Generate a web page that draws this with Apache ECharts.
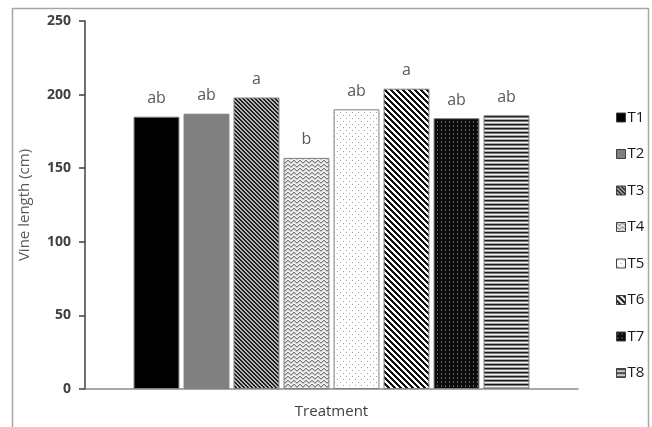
<!DOCTYPE html>
<html>
<head>
<meta charset="utf-8">
<script src="https://cdn.jsdelivr.net/npm/echarts@6/dist/echarts.min.js"></script>
<style>html,body{margin:0;padding:0;background:#fff}#c{width:652px;height:427px}</style>
</head>
<body>
<div id="c"></div>
<script>
var categories = ['Treatment'];
var seriesNames = ['T1','T2','T3','T4','T5','T6','T7','T8'];
var seriesValues = [185, 187, 198, 157, 190, 204, 184, 186];
var letters = ['ab','ab','a','b','ab','a','ab','ab'];
var yTicks = [0, 50, 100, 150, 200, 250];

function tile(w, h, fn) {
  var c = document.createElement('canvas');
  c.width = w; c.height = h;
  var ctx = c.getContext('2d');
  for (var y = 0; y < h; y++) for (var x = 0; x < w; x++) {
    ctx.fillStyle = fn(x, y);
    ctx.fillRect(x, y, 1, 1);
  }
  return { image: c, repeat: 'repeat' };
}
var mod = function (a, n) { return ((a % n) + n) % n; };
var fills = [
  '#000000',
  '#808080',
  tile(4, 4, function (x, y) { return mod(x - y, 4) < 2 ? '#1f1f1f' : '#b4b4b4'; }),
  tile(6, 4, function (x, y) { var w = [0, 1, 2, 2, 1, 0][x]; return (y === w) ? '#7a7a7a' : (y === mod(w + 1, 4) ? '#c4c4c4' : '#efefef'); }),
  tile(6, 6, function (x, y) { return ((x === 1 && y === 1) || (x === 4 && y === 4)) ? '#a0a0a0' : '#ffffff'; }),
  tile(6, 6, function (x, y) { return mod(x - y, 6) < 3 ? '#111111' : '#ffffff'; }),
  tile(4, 4, function (x, y) { return (x === 1 && (y === 1 || y === 2)) ? '#5a5a5a' : '#0d0d0d'; }),
  tile(1, 4, function (x, y) { return ['#1a1a1a', '#7a7a7a', '#f2f2f2', '#a6a6a6'][y]; })
];

var series = seriesNames.map(function (n, i) {
  return {
    name: n,
    type: 'bar',
    data: [seriesValues[i]],
    barGap: '9%',
    barCategoryGap: '19.7%',
    itemStyle: { color: fills[i], borderColor: '#7f7f7f', borderWidth: 1 },
    label: {
      show: true, position: 'top', distance: 10,
      formatter: letters[i],
      color: '#595959', fontSize: 16, fontFamily: 'Open Sans'
    }
  };
});

var chart = echarts.init(document.getElementById('c'), null, { renderer: 'canvas' });
chart.setOption({
  animation: false,
  backgroundColor: '#ffffff',
  graphic: [{
    type: 'rect', silent: true,
    shape: { x: 12.5, y: 8.5, width: 636, height: 440 },
    style: { fill: 'none', stroke: '#a6a6a6', lineWidth: 1.5 }
  }],
  grid: { left: 85, right: 74, top: 21, bottom: 38 },
  legend: {
    orient: 'vertical', left: 611, top: 105,
    icon: 'rect', itemWidth: 9, itemHeight: 9, itemGap: 21.5,
    data: seriesNames,
    itemStyle: { borderColor: '#404040', borderWidth: 1 },
    textStyle: { color: '#1a1a1a', fontSize: 15, fontFamily: 'Open Sans', lineHeight: 14, padding: [0, 0, 0, -3] }
  },
  xAxis: {
    type: 'category', data: categories,
    axisLine: { lineStyle: { color: '#8c8c8c', width: 1.5 } },
    axisTick: { show: false },
    axisLabel: { margin: 15, color: '#404040', fontSize: 15, fontFamily: 'Open Sans' }
  },
  yAxis: {
    type: 'value', min: yTicks[0], max: yTicks[yTicks.length - 1], interval: 50,
    name: 'Vine length (cm)', nameLocation: 'middle', nameGap: 53,
    nameTextStyle: { color: '#595959', fontSize: 15, fontFamily: 'Open Sans' },
    axisLine: { show: true, lineStyle: { color: '#404040', width: 1.5 } },
    axisTick: { show: true, length: 6, lineStyle: { color: '#404040', width: 1.5 } },
    axisLabel: { margin: 14, color: '#404040', fontSize: 14, fontWeight: 'bold', fontFamily: 'Noto Sans' },
    splitLine: { show: false }
  },
  series: series
});
</script>
</body>
</html>
